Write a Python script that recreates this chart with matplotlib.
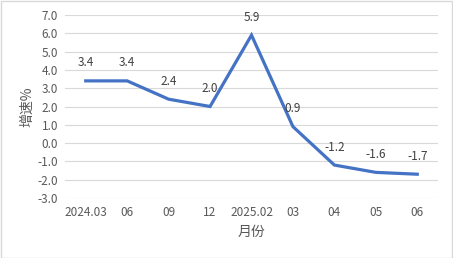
import matplotlib.pyplot as plt
from matplotlib.patches import Rectangle

plt.rcParams["font.family"] = ["Noto Sans CJK SC", "DejaVu Sans"]

months = ["2024.03", "06", "09", "12", "2025.02", "03", "04", "05", "06"]
growth = [3.4, 3.4, 2.4, 2.0, 5.9, 0.9, -1.2, -1.6, -1.7]
y_ticks = [7.0, 6.0, 5.0, 4.0, 3.0, 2.0, 1.0, 0.0, -1.0, -2.0, -3.0]

W, H = 453, 258
fig = plt.figure(figsize=(W / 100, H / 100), dpi=100)
ax = fig.add_axes([65 / W, 1 - 198 / H, (438 - 65) / W, (198 - 15) / H])

x = list(range(len(months)))
ax.plot(x, growth, color="#4472C4", linewidth=2.3, solid_joinstyle="miter")

for xi, v in zip(x, growth):
    ax.annotate(f"{v:.1f}", (xi, v), xytext=(0, 13), textcoords="offset points",
                ha="center", va="center", fontsize=8.5, color="#404040")

ax.set_xlim(-0.5, len(months) - 0.5)
ax.set_ylim(-3.0, 7.0)
ax.set_yticks(y_ticks)
ax.set_yticklabels([f"{t:.1f}" for t in y_ticks])
ax.set_xticks(x)
ax.set_xticklabels(months)
ax.tick_params(axis="both", length=0, labelsize=8.5, labelcolor="#595959")
ax.tick_params(axis="y", pad=5)
ax.tick_params(axis="x", pad=6)
ax.grid(axis="y", color="#d9d9d9", linewidth=0.8)
ax.set_axisbelow(True)
for s in ax.spines.values():
    s.set_visible(False)

ax.set_ylabel("增速%", fontsize=10, color="#595959", labelpad=2)
ax.set_xlabel("月份", fontsize=10, color="#595959", labelpad=4)

fig.patches.append(Rectangle((0.5 / W, 0.5 / H), 1 - 1.5 / W, 1 - 1.5 / H,
                             transform=fig.transFigure, fill=False,
                             edgecolor="#d9d9d9", linewidth=1))

fig.savefig("out.png", dpi=100)
